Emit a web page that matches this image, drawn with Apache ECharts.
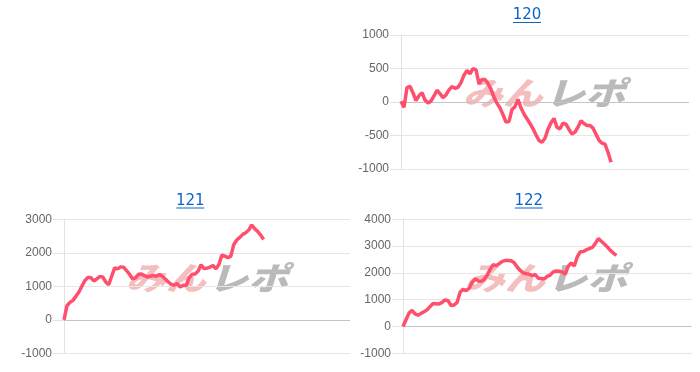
<!DOCTYPE html>
<html>
<head>
<meta charset="utf-8">
<script src="https://cdn.jsdelivr.net/npm/echarts@6/dist/echarts.min.js"></script>
<style>html,body{margin:0;padding:0;background:#fff;}#c{width:700px;height:372px;}</style>
</head>
<body>
<div id="c"></div>
<script>
// ---- data ----
const titles = ['120', '121', '122'];
const slots = 96; // x slots per panel
const pl120 = [10,-80,215,235,135,20,95,140,30,-15,15,90,175,125,65,105,180,230,205,220,
  290,400,470,420,500,480,270,335,335,275,190,70,-20,-90,-190,-300,-290,-110,-70,40,
  -90,-180,-250,-320,-400,-490,-575,-600,-540,-405,-310,-245,-380,-400,-315,-330,-410,-480,-450,-375,
  -280,-320,-350,-350,-390,-480,-570,-615,-630,-750,-900];
const pl121 = [0,420,520,580,700,830,1000,1170,1260,1260,1160,1220,1290,1280,1130,1050,1300,1550,1520,1580,
  1570,1470,1360,1220,1250,1360,1370,1320,1280,1300,1320,1300,1350,1300,1220,1130,1060,1030,1080,980,
  1030,1020,1250,1360,1370,1450,1640,1530,1540,1570,1620,1520,1650,1930,1900,1850,1900,2250,2380,2460,
  2550,2600,2680,2830,2720,2640,2530,2400];
const pl122 = [0,250,500,600,470,420,490,550,620,740,860,850,840,900,990,960,780,800,900,1280,
  1390,1340,1420,1650,1780,1700,1690,1750,1910,2130,2310,2270,2340,2430,2460,2460,2450,2380,2220,2090,
  2000,1970,1950,1900,1940,1800,1790,1770,1870,1920,2040,2070,2060,2030,1950,2250,2370,2260,2600,2790,
  2800,2860,2910,2950,3100,3280,3180,3080,2970,2840,2740,2650];
const yMins = [-1000, -1000, -1000];
const yMaxs = [1000, 3000, 4000];
const ySteps = [500, 1000, 1000];
const watermarkA = 'みん';
const watermarkB = 'レポ';

// ---- layout ----
const series = [pl120, pl121, pl122];
const grids = [
  {left: 401, top: 35, width: 288, height: 134},
  {left: 64, top: 219.3, width: 286, height: 134},
  {left: 403, top: 219.3, width: 288.5, height: 134}
];
const titlePos = [[527, 15.5], [190.3, 201], [528.8, 201]];
const markPos = [[544, 93], [207, 278], [546, 278]];

const chart = echarts.init(document.getElementById('c'), null, {renderer: 'canvas'});
const LABEL_FONT = '"Liberation Sans", Arial, sans-serif';

const option = {
  animation: false,
  grid: grids.map(g => Object.assign({containLabel: false}, g)),
  xAxis: grids.map((g, i) => ({
    type: 'value', gridIndex: i, min: 0, max: slots, show: false
  })),
  yAxis: grids.map((g, i) => ({
    type: 'value', gridIndex: i, min: yMins[i], max: yMaxs[i], interval: ySteps[i],
    axisLine: {show: true, lineStyle: {color: '#e2e2e2', width: 1}},
    axisTick: {show: true, length: 11, lineStyle: {color: '#e3e3e3'}},
    splitLine: {show: true, lineStyle: {color: '#e6e6e6', width: 1}},
    axisLabel: {color: '#666', fontSize: 12, fontFamily: LABEL_FONT, margin: 12,
      formatter: v => String(v)}
  })),
  series: series.map((arr, i) => ({
    type: 'line', xAxisIndex: i, yAxisIndex: i, z: 5,
    data: arr.map((v, k) => [k, v]),
    showSymbol: false, symbol: 'none',
    lineStyle: {color: '#ff4f6c', width: 3.5},
    itemStyle: {color: '#ff4f6c'},
    markLine: {
      silent: true, symbol: 'none', label: {show: false},
      lineStyle: {color: '#c4c4c4', type: 'solid', width: 1},
      data: [{yAxis: 0}], z: 1
    }
  })),
  graphic: []
};

titles.forEach((t, i) => {
  const [cx, cy] = titlePos[i];
  option.graphic.push({
    type: 'text', x: cx, y: cy, z: 10,
    style: {text: t, fill: '#0b64c8', font: '15px "DejaVu Sans", sans-serif', textAlign: 'center', textVerticalAlign: 'middle'}
  });
  option.graphic.push({
    type: 'line', z: 10,
    shape: {x1: cx - 14, y1: cy + 7, x2: cx + 14, y2: cy + 7},
    style: {stroke: '#0b64c8', lineWidth: 1}
  });
});

markPos.forEach(([mx, my]) => {
  option.graphic.push({
    type: 'group', x: mx, y: my, scaleX: 1.25, z: 1,
    children: [
      {type: 'text', x: -1, y: 0, style: {text: watermarkA, fill: 'rgba(228,100,100,0.42)',
        font: 'italic 900 32px "Noto Sans CJK JP", sans-serif', textAlign: 'right', textVerticalAlign: 'middle'}},
      {type: 'text', x: 1, y: 0, style: {text: watermarkB, fill: 'rgba(130,130,130,0.55)',
        font: 'italic 900 32px "Noto Sans CJK JP", sans-serif', textAlign: 'left', textVerticalAlign: 'middle'}}
    ]
  });
});

chart.setOption(option);
</script>
</body>
</html>
